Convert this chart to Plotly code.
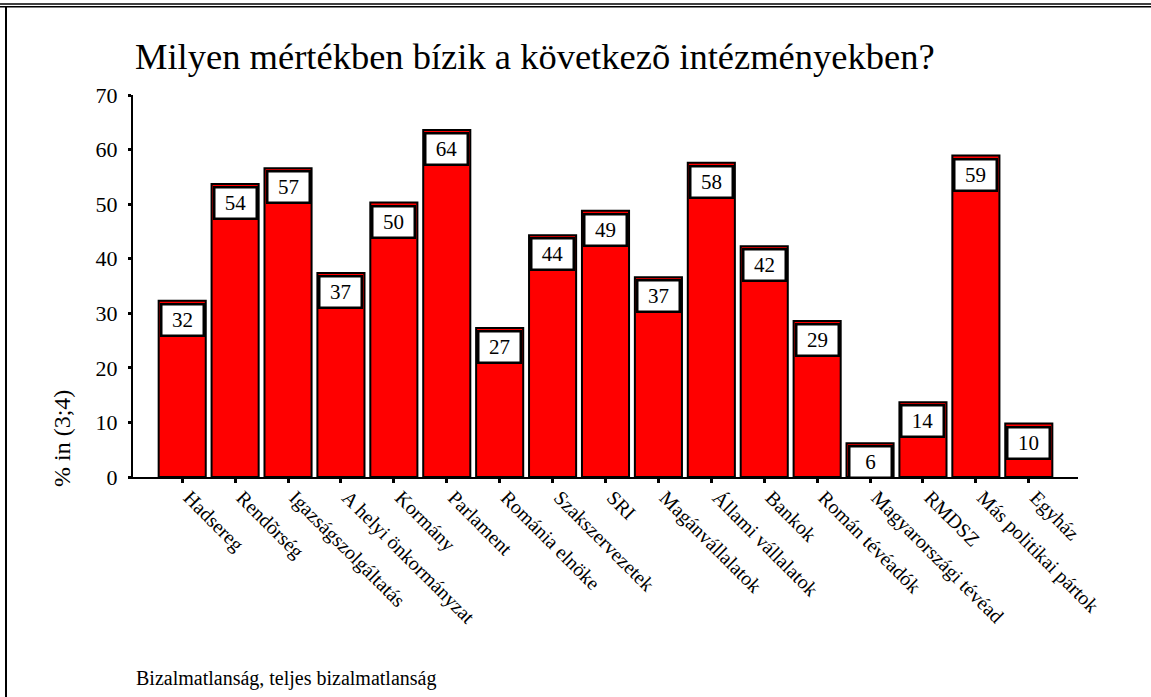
import plotly.graph_objects as go

# data
categories = [
    'Hadsereg', 'Rendõrség', 'Igazságszolgáltatás', 'A helyi önkormányzat',
    'Kormány', 'Parlament', 'Románia elnöke', 'Szakszervezetek', 'SRI',
    'Magánvállalatok', 'Állami vállalatok', 'Bankok', 'Román tévéadók',
    'Magyarországi tévéad', 'RMDSZ', 'Más politikai pártok', 'Egyház'
]
values = [32.3, 53.7, 56.6, 37.4, 50.3, 63.6, 27.3, 44.3, 48.8,
          36.6, 57.6, 42.3, 28.6, 6.2, 13.7, 58.9, 9.8]
labels = [32, 54, 57, 37, 50, 64, 27, 44, 49, 37, 58, 42, 29, 6, 14, 59, 10]
y_ticks = [0, 10, 20, 30, 40, 50, 60, 70]

FONT = 'Liberation Serif'
W, H = 1151, 697
L, R, T, B = 133, 1078, 95, 477   # plot area in pixels


def px(x):
    return (x - L) / (R - L)


def py(y):
    return (B - y) / (B - T)


fig = go.Figure(go.Bar(
    x=categories,
    y=values,
    marker=dict(color='#ff0000', line=dict(color='black', width=2)),
    hoverinfo='x+y',
))

# white value boxes at the top of each bar
for c, v, lab in zip(categories, values, labels):
    fig.add_annotation(
        x=c, y=v, text=str(lab), showarrow=False,
        xref='x', yref='y', yanchor='top', yshift=-2,
        width=38, height=27, borderpad=1,
        bgcolor='white', bordercolor='black', borderwidth=2.5,
        font=dict(family=FONT, size=21, color='black'),
    )

# y axis title sits low, beside the bottom of the axis
fig.add_annotation(
    text='% in (3;4)', textangle=-90, showarrow=False,
    xref='paper', yref='paper', x=px(62), y=py(439),
    xanchor='center', yanchor='middle',
    font=dict(family=FONT, size=24, color='black'),
)

# footnote
fig.add_annotation(
    text='Bizalmatlanság, teljes bizalmatlanság', showarrow=False,
    xref='paper', yref='paper', x=px(134), y=py(678),
    xanchor='left', yanchor='middle',
    font=dict(family=FONT, size=20, color='black'),
)

# frame: double line at top, single line on the left
frame = dict(color='black', width=1.5)
fig.add_shape(type='line', xref='paper', yref='paper',
              x0=px(0), x1=px(W), y0=py(4), y1=py(4), line=frame)
fig.add_shape(type='line', xref='paper', yref='paper',
              x0=px(0), x1=px(W), y0=py(6.8), y1=py(6.8), line=frame)
fig.add_shape(type='line', xref='paper', yref='paper',
              x0=px(6), x1=px(6), y0=py(7), y1=py(H), line=dict(color='black', width=2))

fig.update_layout(
    width=W, height=H,
    margin=dict(l=L, r=W - R, t=T, b=H - B),
    paper_bgcolor='white', plot_bgcolor='white',
    bargap=0.11,
    showlegend=False,
    title=dict(
        text='Milyen mértékben bízik a következõ intézményekben?',
        x=px(135), xref='paper', xanchor='left',
        y=1 - 56 / H, yref='container', yanchor='middle',
        font=dict(family=FONT, size=36.5, color='black'),
    ),
    font=dict(family=FONT, color='black'),
)

fig.update_xaxes(
    range=[-0.93, len(categories) - 1 + 0.93],
    showline=True, linecolor='black', linewidth=2,
    ticks='outside', ticklen=4, tickwidth=3, tickcolor='black',
    tickangle=45, ticklabelshift=7, ticklabelstandoff=-5,
    tickfont=dict(family=FONT, size=20, color='black'),
    showgrid=False, zeroline=False,
)
fig.update_yaxes(
    range=[0, 70], tickvals=y_ticks,
    showline=True, linecolor='black', linewidth=2,
    ticks='outside', ticklen=3, tickwidth=3, tickcolor='black',
    ticklabelstandoff=6,
    tickfont=dict(family=FONT, size=22, color='black'),
    showgrid=False, zeroline=False,
)

# page body margin off so the figure sits at the window's corner
fig.write_html('out.html', config={'displayModeBar': False}, post_script=(
    "document.body.style.margin='0';"
    "document.body.style.overflow='hidden';"
))
